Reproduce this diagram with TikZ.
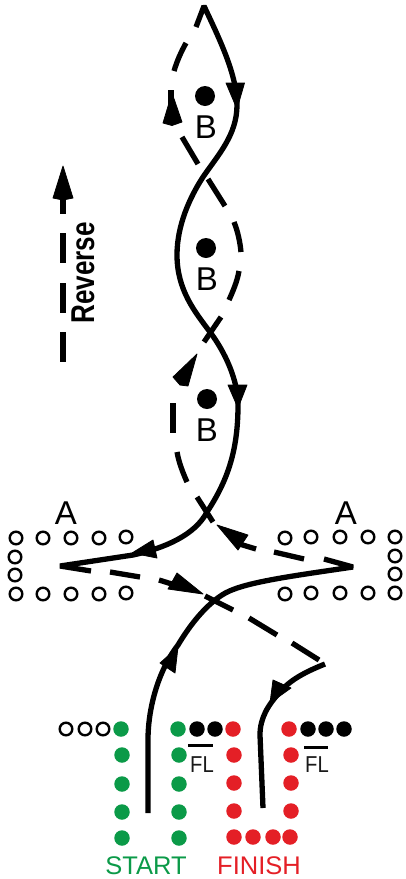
\documentclass[tikz,border=0pt]{standalone}
\usepackage{fontspec}
\usepackage{graphicx}
\setmainfont{Liberation Sans}
\definecolor{stgreen}{HTML}{0B9A48}
\definecolor{fired}{HTML}{E41F26}
\tikzset{
  route/.style={line width=5.3pt,line join=bevel},
  head/.style={fill=black,draw=black,line width=.8pt,line join=round},
  opendot/.style={circle,draw=black,line width=2.4pt,fill=white,minimum size=12.6pt,inner sep=0pt},
  blackdot/.style={circle,fill=black,minimum size=15.5pt,inner sep=0pt},
  greendot/.style={circle,fill=stgreen,minimum size=15.5pt,inner sep=0pt},
  reddot/.style={circle,fill=fired,minimum size=15.5pt,inner sep=0pt},
  bdot/.style={circle,fill=black,minimum size=20pt,inner sep=0pt},
  lab/.style={font=\fontsize{33}{33}\selectfont,inner sep=0pt},
  fl/.style={font=\fontsize{23}{23}\selectfont,inner sep=0pt,text=black!90},
  endlab/.style={font=\fontsize{25.5}{25.5}\selectfont,inner sep=0pt},
  barline/.style={line width=3pt}
}
\begin{document}
\begin{tikzpicture}[x=1pt,y=-1pt]
\useasboundingbox (0,0) rectangle (405,879);
% open dots: A groups
\foreach \x/\y [count=\i] in {16/538,43/538,71/538,99/538,126/537,15/557,15/575,16/594,43/594,71/594,99/594,126/593,
  285/538,311/537,340/537,368/537,395/537,395/556,395/574,285/594,311/593,340/593,368/593,395/593}
  \node[opendot] (oa\i) at (\x,\y) {};
\node[lab] (la1) at (66,513) {A};
\node[lab] (la2) at (346,513) {A};
% B
\node[bdot] (b1) at (205,96) {};
\node[bdot] (b2) at (206,248) {};
\node[bdot] (b3) at (207,399) {};
\node[lab] (lb1) at (206,127) {B};
\node[lab] (lb2) at (207,279) {B};
\node[lab] (lb3) at (207,430) {B};
% start/finish formations
\foreach \x/\y [count=\i] in {66/729,85/729,103/729}
  \node[opendot] (os\i) at (\x,\y) {};
\foreach \x/\y [count=\i] in {197/729,215/729,308/729,326/729,344/729}
  \node[blackdot] (k\i) at (\x,\y) {};
\foreach \x/\y [count=\i] in {121/729,122/755,122/784,122/812,122/838,178/729,179/755,179/784,179/812,179/838}
  \node[greendot] (g\i) at (\x,\y) {};
\foreach \x/\y [count=\i] in {233/729,234/755,234/783,234/811,234/837,253/837,273/837,290/837,291/811,291/783,291/755,289/729}
  \node[reddot] (r\i) at (\x,\y) {};
\draw[barline] (188,745) -- (213,745);
\draw[barline] (304,747) -- (328,747);
\node[fl] (fl1) at (202,765) {\scalebox{.88}[1]{FL}};
\node[fl] (fl2) at (317,765) {\scalebox{.88}[1]{FL}};
\node[endlab,text=stgreen] (st) at (146,866) {START};
\node[endlab,text=fired] (fi) at (259,866) {FINISH};
% solid routes with the dash that meets each sharp turn
\draw[route] (148,813) -- (148,740) .. controls (148,705) and (160,668) .. (178,645)
  .. controls (190,625) and (205,606) .. (222,595)
  .. controls (240,583) and (285,577) .. (353,567) -- (324,559);
\draw[route] (91,571) -- (60,566) -- (133,555)
  .. controls (165,548) and (195,535) .. (207,512)
  .. controls (228,480) and (238,450) .. (238,405)
  .. controls (238,380) and (225,352) .. (210,332)
  .. controls (195,312) and (177,290) .. (177,255)
  .. controls (177,225) and (190,197) .. (203,177)
  .. controls (218,155) and (237,135) .. (237,105)
  .. controls (237,75) and (220,40) .. (204,6) -- (196,27);
\draw[route] (325,664) .. controls (305,672) and (290,680) .. (280,692)
  .. controls (268,705) and (260,718) .. (260,735) -- (263,808);
% dashes
\draw[route] (186,43) .. controls (181,52) and (177,61) .. (174,71);
\draw[route] (171,90) -- (171,108);
\draw[route] (182,137) -- (198,164);
\draw[route] (208,179) -- (225,206);
\draw[route] (234,222) .. controls (238,232) and (240,242) .. (241,252);
\draw[route] (239,271) .. controls (237,282) and (233,291) .. (229,300);
\draw[route] (221,317) -- (204,342);
\draw[route] (173,403) -- (173,433);
\draw[route] (177,452) .. controls (179,463) and (183,473) .. (187,482);
\draw[route] (197,497) -- (213,522);
\draw[route] (236,543) -- (256,549);
\draw[route] (274,552) -- (304,559);
\draw[route] (110,572) -- (140,577);
\draw[route] (159,580) -- (175,585);
\draw[route] (205,596) -- (233,610);
\draw[route] (249,618) -- (277,635);
\draw[route] (292,643) -- (319,660);
% arrowheads
\fill[head] (237,109) -- (226,83) -- (244.5,83) -- cycle;
\fill[head] (238,408) -- (228,385) -- (247,385) -- cycle;
\fill[head] (172,93) -- (163,123) -- (172,125.5) -- (182,122) -- cycle;
\fill[head] (197,354) -- (173,377) -- (180,385) -- (188,386) -- cycle;
\fill[head] (217,525) -- (238,550) -- (248,535) -- cycle;
\fill[head] (132,553) -- (153,540) -- (157,558) -- cycle;
\fill[head] (203,594) -- (177,573) -- (168,589) -- cycle;
\fill[head] (178,647) -- (160,663) -- (175,673) -- cycle;
\fill[head] (270,703) -- (273,680) -- (291,688) -- cycle;
% reverse arrow
\fill[head] (63,166) -- (53,198) -- (63,200) -- (73,198) -- cycle;
\draw[route,line width=6pt] (63,195) -- (63,214);
\draw[route,line width=6pt] (63,233) -- (63,263);
\draw[route,line width=6pt] (63,283) -- (63,313);
\draw[route,line width=6pt] (63,332) -- (63,362);
\node[rotate=90,inner sep=0pt,font=\bfseries\fontsize{33}{33}\selectfont] (rev) at (83,273) {\scalebox{.79}[1]{Reverse}};
\end{tikzpicture}
\end{document}
